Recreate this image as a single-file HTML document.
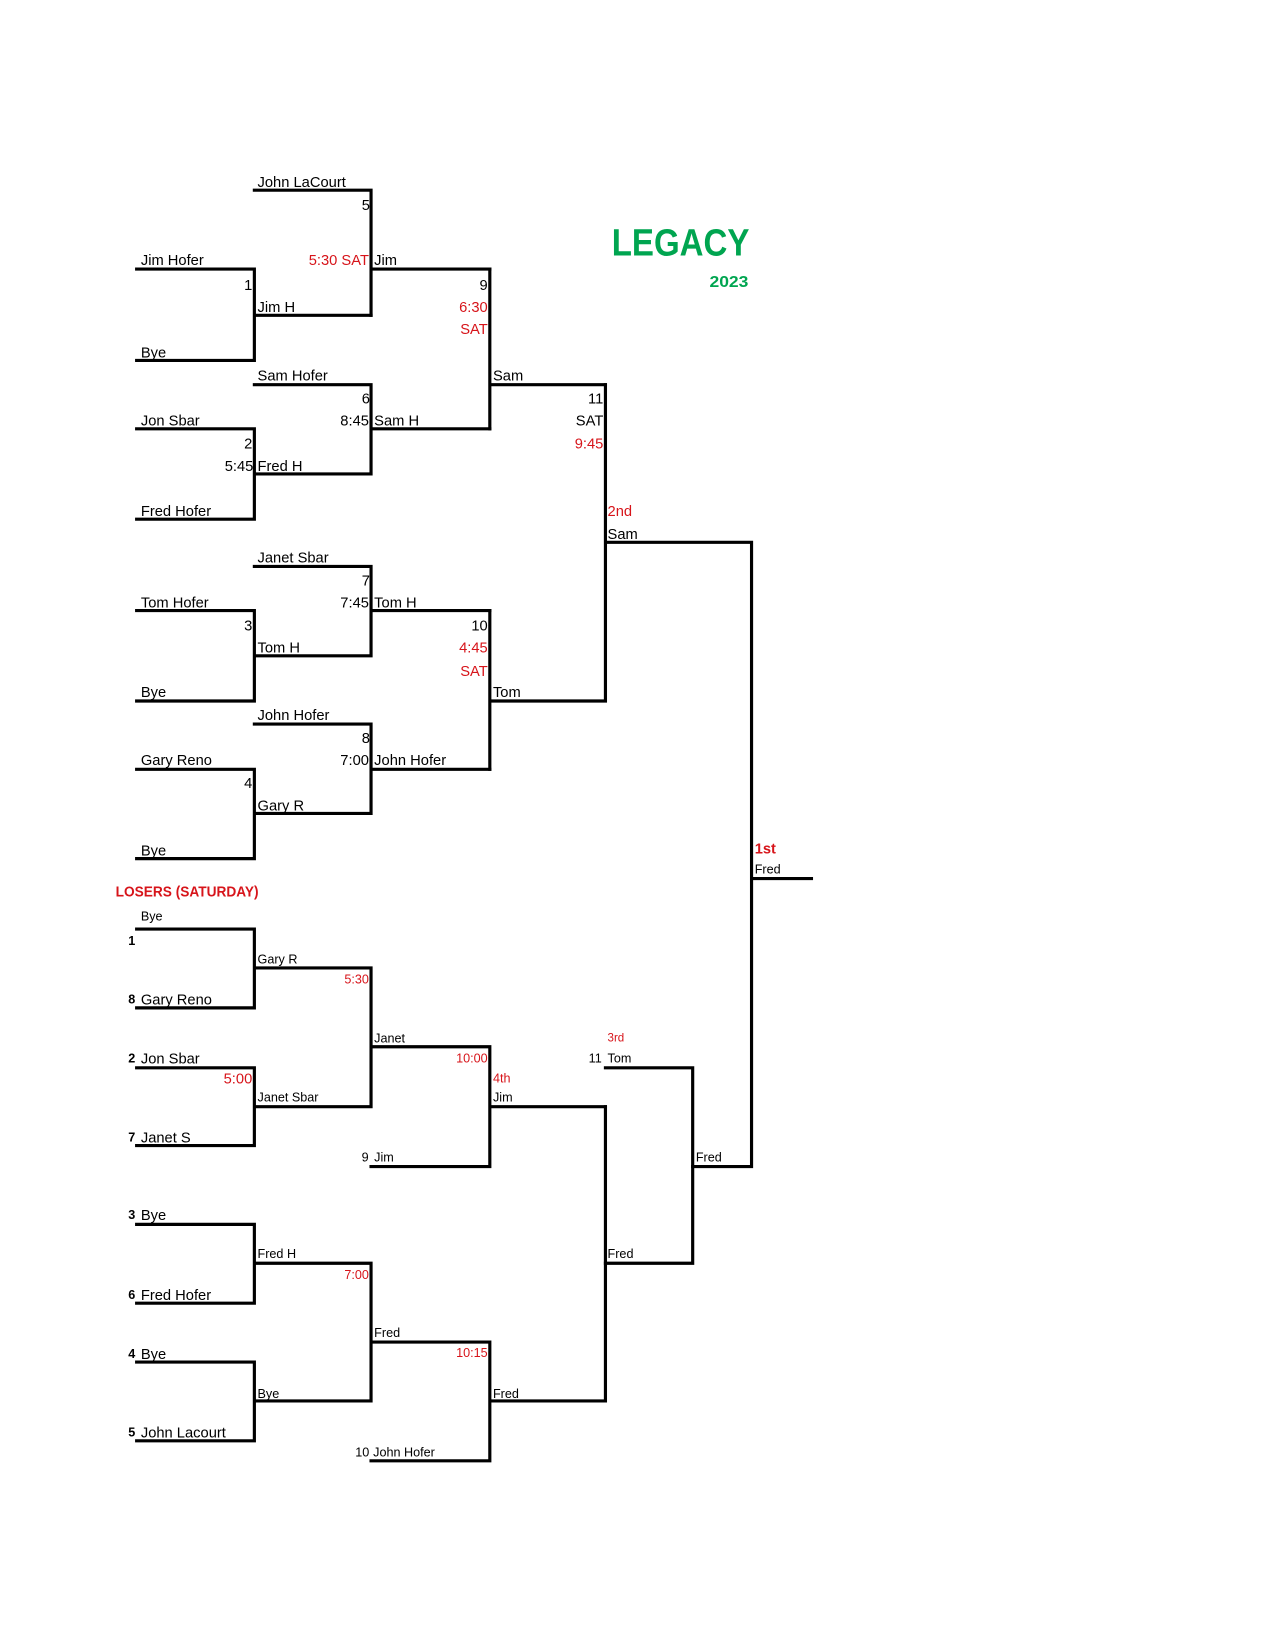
<!DOCTYPE html>
<html><head><meta charset="utf-8"><style>
html,body{margin:0;padding:0;background:#fff;}
svg{display:block;}
text{font-family:"Liberation Sans",sans-serif;font-size:14px;fill:#000;}
.r{fill:#d7141a;}
.s{font-size:12px;}
.b{font-weight:bold;}
.e{text-anchor:end;}
</style></head><body>
<svg width="1275" height="1650" viewBox="0 0 1213 1570" preserveAspectRatio="none" xmlns="http://www.w3.org/2000/svg">
<g stroke="#000" stroke-width="3" fill="none" stroke-linecap="square">
<path d="M130 256H242V343H130 M242 300H353"/>
<path d="M242 181H353V300 M353 256H466"/>
<path d="M242 366H353V451H242 M130 408H242V494H130 M353 408H466"/>
<path d="M466 256V408 M466 366H576"/>
<path d="M242 539H353V624H242 M130 581H242V667H130 M353 581H466"/>
<path d="M242 689H353V774H242 M130 732H242V817H130 M353 732H466"/>
<path d="M466 581V732 M466 667H576 M576 366V667 M576 516H715V1110H659 M715 836H772"/>
<path d="M130 884H242V959H130 M242 921H353V1053H242 M130 1016H242V1090H130 M353 996H466V1110H353 M466 1053H576"/>
<path d="M130 1165H242V1240H130 M242 1202H353V1333H242 M130 1296H242V1371H130 M353 1277H466V1390H353 M466 1333H576V1053"/>
<path d="M576 1202H659V1016H576"/>
</g>
<text x="582" y="243" textLength="131" lengthAdjust="spacingAndGlyphs" style="font-size:36px;font-weight:bold;fill:#00a550">LEGACY</text>
<text x="675" y="273" textLength="37" lengthAdjust="spacingAndGlyphs" class="b" style="font-size:15px;fill:#00a550">2023</text>

<text x="245" y="178">John LaCourt</text>
<text x="352" y="200" class="e">5</text>
<text x="134" y="252">Jim Hofer</text>
<text x="351" y="252" class="e r">5:30 SAT</text>
<text x="356" y="252">Jim</text>
<text x="240" y="276" class="e">1</text>
<text x="245" y="297">Jim H</text>
<text x="464" y="276" class="e">9</text>
<text x="464" y="297" class="e r">6:30</text>
<text x="464" y="318" class="e r">SAT</text>
<text x="134" y="340">Bye</text>
<text x="245" y="362">Sam Hofer</text>
<text x="469" y="362">Sam</text>
<text x="352" y="384" class="e">6</text>
<text x="574" y="384" class="e">11</text>
<text x="134" y="405">Jon Sbar</text>
<text x="351" y="405" class="e">8:45</text>
<text x="356" y="405">Sam H</text>
<text x="574" y="405" class="e">SAT</text>
<text x="240" y="427" class="e">2</text>
<text x="574" y="427" class="e r">9:45</text>
<text x="241" y="448" class="e">5:45</text>
<text x="245" y="448">Fred H</text>
<text x="134" y="491">Fred Hofer</text>
<text x="578" y="491" class="r">2nd</text>
<text x="578" y="513">Sam</text>
<text x="245" y="535">Janet Sbar</text>
<text x="352" y="557" class="e">7</text>
<text x="134" y="578">Tom Hofer</text>
<text x="351" y="578" class="e">7:45</text>
<text x="356" y="578">Tom H</text>
<text x="240" y="600" class="e">3</text>
<text x="464" y="600" class="e">10</text>
<text x="245" y="621">Tom H</text>
<text x="464" y="621" class="e r">4:45</text>
<text x="464" y="643" class="e r">SAT</text>
<text x="134" y="663">Bye</text>
<text x="469" y="663">Tom</text>
<text x="245" y="685">John Hofer</text>
<text x="352" y="707" class="e">8</text>
<text x="134" y="728">Gary Reno</text>
<text x="351" y="728" class="e">7:00</text>
<text x="356" y="728">John Hofer</text>
<text x="240" y="750" class="e">4</text>
<text x="245" y="771">Gary R</text>
<text x="134" y="814">Bye</text>
<text x="718" y="812" class="r b">1st</text>
<text x="718" y="831" class="s">Fred</text>

<text x="110" y="853" textLength="136" lengthAdjust="spacingAndGlyphs" class="r b">LOSERS (SATURDAY)</text>
<text x="134" y="876" class="s">Bye</text>
<text x="122" y="899" class="s b">1</text>
<text x="245" y="917" class="s">Gary R</text>
<text x="351" y="936" class="s r e">5:30</text>
<text x="122" y="955" class="s b">8</text>
<text x="134" y="956">Gary Reno</text>
<text x="356" y="992" class="s">Janet</text>
<text x="578" y="991" class="s r" style="font-size:11px">3rd</text>
<text x="122" y="1011" class="s b">2</text>
<text x="134" y="1012">Jon Sbar</text>
<text x="464" y="1011" class="s r e">10:00</text>
<text x="560" y="1011" class="s">11</text>
<text x="578" y="1011" class="s">Tom</text>
<text x="240" y="1031" class="e r">5:00</text>
<text x="469" y="1030" class="s r">4th</text>
<text x="245" y="1048" class="s">Janet Sbar</text>
<text x="469" y="1048" class="s">Jim</text>
<text x="122" y="1086" class="s b">7</text>
<text x="134" y="1087">Janet S</text>
<text x="344" y="1105" class="s">9</text>
<text x="356" y="1105" class="s">Jim</text>
<text x="662" y="1105" class="s">Fred</text>
<text x="122" y="1160" class="s b">3</text>
<text x="134" y="1161">Bye</text>
<text x="245" y="1197" class="s">Fred H</text>
<text x="578" y="1197" class="s">Fred</text>
<text x="351" y="1217" class="s r e">7:00</text>
<text x="122" y="1236" class="s b">6</text>
<text x="134" y="1237">Fred Hofer</text>
<text x="356" y="1272" class="s">Fred</text>
<text x="464" y="1291" class="s r e">10:15</text>
<text x="122" y="1292" class="s b">4</text>
<text x="134" y="1293">Bye</text>
<text x="245" y="1330" class="s">Bye</text>
<text x="469" y="1330" class="s">Fred</text>
<text x="122" y="1367" class="s b">5</text>
<text x="134" y="1368">John Lacourt</text>
<text x="338" y="1386" class="s">10</text>
<text x="355" y="1386" class="s">John Hofer</text>
</svg>
</body></html>
